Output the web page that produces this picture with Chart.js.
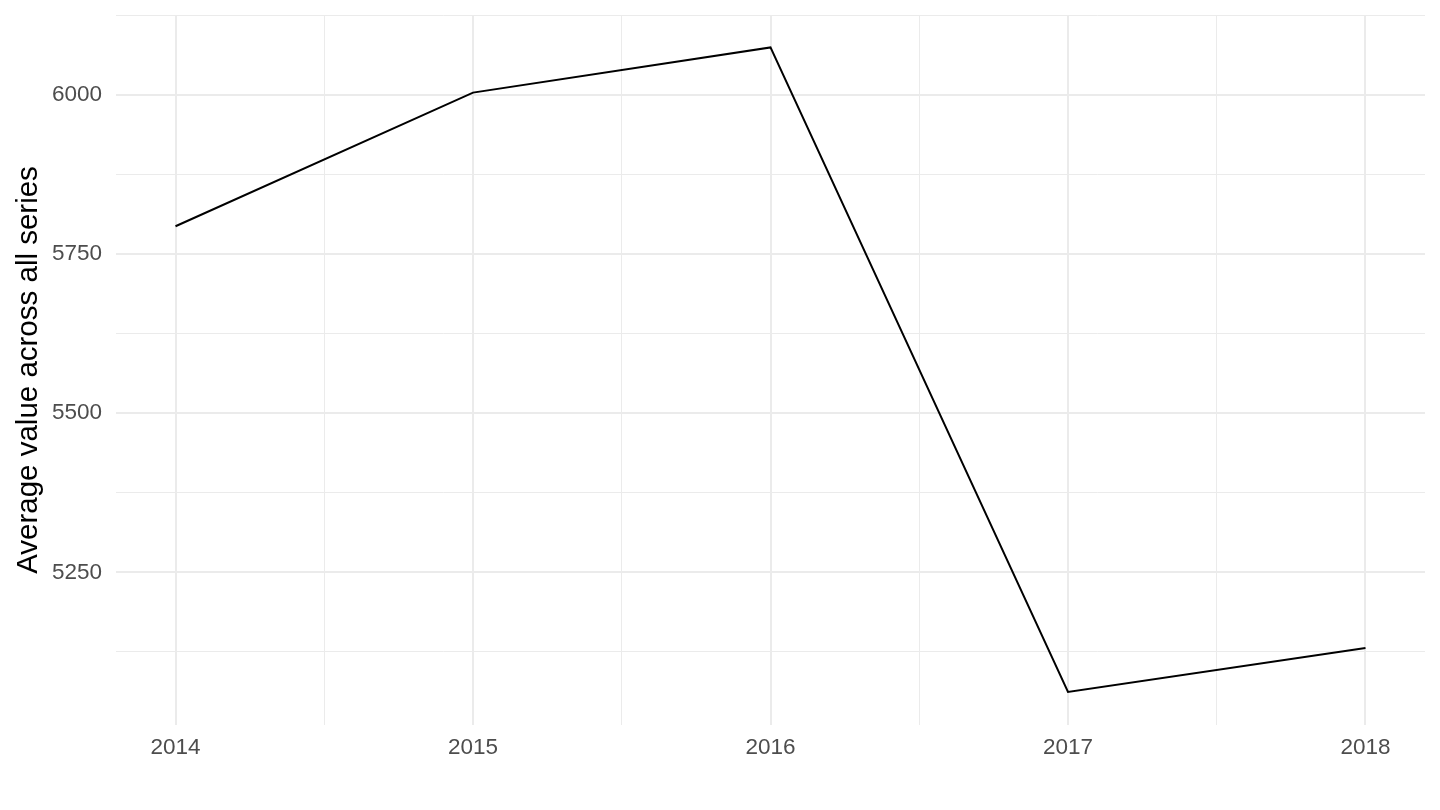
<!DOCTYPE html>
<html>
<head>
<meta charset="utf-8">
<script src="https://cdn.jsdelivr.net/npm/chart.js@4"></script>
<style>
html,body{margin:0;padding:0;background:#fff;}
#wrap{width:1440px;height:810px;position:relative;}
</style>
</head>
<body>
<div id="wrap"><canvas id="c" width="1440" height="810"></canvas></div>
<script>
const years = [2014, 2015, 2016, 2017, 2018];
const avgValues = [5794, 6004, 6075, 5062, 5131];
const yTicks = [5125, 5250, 5375, 5500, 5625, 5750, 5875, 6000, 6125];
const yLabeled = [5250, 5500, 5750, 6000];
const xTicks = [2014, 2014.5, 2015, 2015.5, 2016, 2016.5, 2017, 2017.5, 2018];
const yTitle = 'Average value across all series';

const data = years.map((y, i) => ({x: y, y: avgValues[i]}));
const FONT = 'Liberation Sans, Arial, sans-serif';

new Chart(document.getElementById('c'), {
  type: 'line',
  data: {
    datasets: [{
      data: data,
      borderColor: '#000000',
      borderWidth: 2,
      pointRadius: 0,
      fill: false,
      tension: 0
    }]
  },
  options: {
    responsive: false,
    animation: false,
    layout: {padding: {top: 15, right: 15, left: 0, bottom: 0}},
    plugins: {legend: {display: false}, tooltip: {enabled: false}},
    scales: {
      x: {
        type: 'linear',
        min: 2013.8,
        max: 2018.2,
        afterBuildTicks: s => { s.ticks = xTicks.map(v => ({value: v})); },
        afterFit: s => { s.height = 85; s.paddingLeft = 0; s.paddingRight = 0; },
        border: {display: false},
        grid: {
          drawTicks: false,
          color: '#EBEBEB',
          lineWidth: ctx => (ctx.tick && Number.isInteger(ctx.tick.value)) ? 2 : 1
        },
        ticks: {
          padding: 9,
          color: '#4D4D4D',
          font: {family: FONT, size: 22.5},
          autoSkip: false,
          maxRotation: 0,
          callback: v => Number.isInteger(v) ? String(v) : ''
        }
      },
      y: {
        type: 'linear',
        min: 5010,
        max: 6126,
        afterBuildTicks: s => { s.ticks = yTicks.map(v => ({value: v})); },
        afterFit: s => { s.width = 116; s.paddingTop = 0; s.paddingBottom = 0; },
        border: {display: false},
        grid: {
          drawTicks: false,
          color: '#EBEBEB',
          lineWidth: ctx => (ctx.tick && yLabeled.includes(ctx.tick.value)) ? 2 : 1
        },
        ticks: {
          padding: 14,
          color: '#4D4D4D',
          font: {family: FONT, size: 22.5},
          autoSkip: false,
          callback: v => yLabeled.includes(v) ? String(v) : ''
        },
        title: {
          display: true,
          text: yTitle,
          color: '#000000',
          font: {family: FONT, size: 29.5},
          padding: {top: 11, bottom: 0}
        }
      }
    }
  }
});
</script>
</body>
</html>
